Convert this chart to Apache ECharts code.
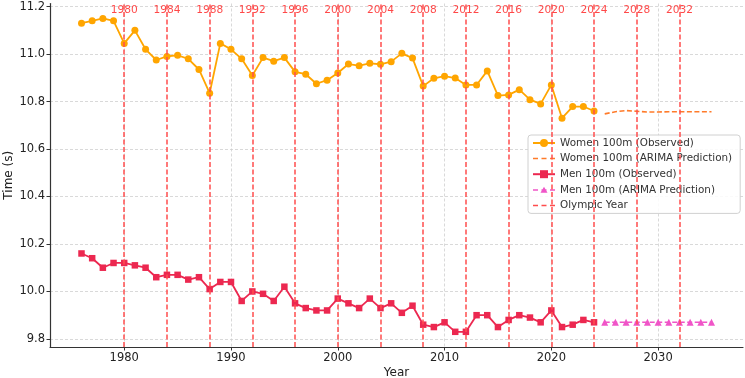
<!DOCTYPE html>
<html>
<head>
<meta charset="utf-8">
<script src="https://cdn.jsdelivr.net/npm/echarts@6/dist/echarts.min.js"></script>
<style>
  html, body {margin:0; padding:0; background:#fff;}
  #chart {width:745px; height:378px;}
</style>
</head>
<body>
<div id="chart"></div>
<script type="text/javascript">
// observed years and prediction years
var years = [];
for (var y = 1976; y <= 2024; y++) years.push(y);
var predYears = [2025, 2026, 2027, 2028, 2029, 2030, 2031, 2032, 2033, 2034, 2035];
var olympicYears = [1980, 1984, 1988, 1992, 1996, 2000, 2004, 2008, 2012, 2016, 2020, 2024, 2028, 2032];

// women 100m, 1976-2024
var womenObs = [11.13, 11.14, 11.15, 11.14, 11.045, 11.10, 11.02, 10.975, 10.99, 10.995,
  10.98, 10.935, 10.835, 11.045, 11.02, 10.98, 10.91, 10.985, 10.97, 10.985,
  10.925, 10.915, 10.875, 10.89, 10.92, 10.958, 10.951, 10.961, 10.957, 10.968,
  11.003, 10.983, 10.865, 10.898, 10.907, 10.899, 10.87, 10.87, 10.929, 10.825,
  10.828, 10.85, 10.808, 10.79, 10.87, 10.73, 10.779, 10.779, 10.76];
var womenPred = [10.748, 10.757, 10.762, 10.759, 10.756, 10.756, 10.757, 10.757, 10.757, 10.757, 10.757];

// men 100m, 1976-2024
var menObs = [10.16, 10.14, 10.10, 10.12, 10.12, 10.11, 10.10, 10.06, 10.07, 10.07,
  10.05, 10.06, 10.01, 10.04, 10.04, 9.96, 10.00, 9.99, 9.96, 10.02,
  9.95, 9.93, 9.92, 9.92, 9.97, 9.95, 9.93, 9.97, 9.93, 9.95,
  9.91, 9.94, 9.86, 9.85, 9.87, 9.83, 9.83, 9.90, 9.90, 9.85,
  9.88, 9.90, 9.89, 9.87, 9.92, 9.85, 9.86, 9.88, 9.87];
var menPred = [9.87, 9.87, 9.87, 9.87, 9.87, 9.87, 9.87, 9.87, 9.87, 9.87, 9.87];

var yTicks = [9.8, 10.0, 10.2, 10.4, 10.6, 10.8, 11.0, 11.2];
var xTicks = [1980, 1990, 2000, 2010, 2020, 2030];
var labelY = 11.183;

function pairs(xs, vs) {
  return xs.map(function (x, i) { return [x, vs[i]]; });
}

// legend icons for the dashed entries
var dashIcon = 'path://M0,0h5v1.5h-5z M8.5,0h5v1.5h-5z M17,0h5v1.5h-5z';
var dashTriIcon = dashIcon + ' M11,-2.5L14.5,3.5L7.5,3.5z';

var font = 'DejaVu Sans';
var chart = echarts.init(document.getElementById('chart'));

var option = {
  animation: false,
  textStyle: {fontFamily: font},
  grid: {left: 50, right: 2, top: 3.5, bottom: 31, containLabel: false, outerBoundsMode: 'none'},
  xAxis: {
    type: 'value', min: 1973.05, max: 2037.95,
    name: 'Year', nameLocation: 'middle', nameGap: 20, nameMoveOverlap: false,
    nameTextStyle: {fontSize: 12, color: '#222', fontFamily: font},
    axisLine: {lineStyle: {color: '#333', width: 1.2}},
    axisTick: {show: true, inside: false, length: 3.5, customValues: xTicks, lineStyle: {color: '#333'}},
    axisLabel: {customValues: xTicks, fontSize: 11.5, color: '#222', margin: 5, formatter: function (v) { return String(v); }},
    splitLine: {show: true, lineStyle: {color: '#cfcfcf', type: [3, 2], width: 0.8}}
  },
  yAxis: {
    type: 'value', min: 9.766, max: 11.213,
    name: 'Time (s)', nameLocation: 'middle', nameGap: 35, nameRotate: 90, nameMoveOverlap: false,
    nameTextStyle: {fontSize: 12, color: '#222', fontFamily: font},
    axisLine: {show: true, lineStyle: {color: '#333', width: 1.2}},
    axisTick: {show: true, length: 3.5, customValues: yTicks, lineStyle: {color: '#333'}},
    axisLabel: {customValues: yTicks, fontSize: 11.5, color: '#222', margin: 5, formatter: function (v) { return v.toFixed(1); }},
    splitLine: {show: true, lineStyle: {color: '#cfcfcf', type: [3, 2], width: 0.8}}
  },
  legend: {
    orient: 'vertical', left: 528, top: 135,
    data: [
      {name: 'Women 100m (Observed)'},
      {name: 'Women 100m (ARIMA Prediction)', icon: dashIcon, itemStyle: {color: '#ff7b2a'}},
      {name: 'Men 100m (Observed)'},
      {name: 'Men 100m (ARIMA Prediction)', icon: dashTriIcon, itemStyle: {color: '#f055c8'}},
      {name: 'Olympic Year', icon: dashIcon, itemStyle: {color: '#ff4d4d'}}
    ],
    itemWidth: 22, itemHeight: 10, itemGap: 5.6,
    padding: [3, 8, 3, 4],
    backgroundColor: 'rgba(255,255,255,0.85)',
    borderColor: '#d0d0d0', borderWidth: 1, borderRadius: 3,
    textStyle: {fontSize: 10.4, color: '#333', fontFamily: font}
  },
  series: [
    {
      name: 'Olympic Year', type: 'line', data: [], symbol: 'none',
      lineStyle: {color: '#ff4d4d', type: [5, 2.5], width: 1.5},
      itemStyle: {color: '#ff4d4d'},
      markLine: {
        silent: true, symbol: 'none', label: {show: false},
        lineStyle: {color: '#ff4d4d', type: [5, 2.5], width: 1.5},
        data: olympicYears.map(function (yr) { return {xAxis: yr}; })
      }
    },
    {
      name: 'olympic labels', type: 'scatter', symbolSize: 0, silent: true,
      data: olympicYears.map(function (yr) { return [yr, labelY]; }),
      label: {show: true, position: 'inside', color: '#ff1a1a', fontSize: 10.6, fontFamily: font,
        formatter: function (p) { return String(p.value[0]); }}
    },
    {
      name: 'Women 100m (Observed)', type: 'line', data: pairs(years, womenObs),
      symbol: 'circle', symbolSize: 7, color: '#ffa500',
      lineStyle: {width: 1.8, color: '#ffa500'}, itemStyle: {color: '#ffa500'}
    },
    {
      name: 'Women 100m (ARIMA Prediction)', type: 'line', data: pairs(predYears, womenPred),
      symbol: 'none', color: '#ff7b2a',
      lineStyle: {width: 1.6, color: '#ff7b2a', type: [5, 2.5]}
    },
    {
      name: 'Men 100m (Observed)', type: 'line', data: pairs(years, menObs),
      symbol: 'rect', symbolSize: 6.5, color: '#ec2850',
      lineStyle: {width: 1.8, color: '#ec2850'}, itemStyle: {color: '#ec2850'}
    },
    {
      name: 'Men 100m (ARIMA Prediction)', type: 'line', data: pairs(predYears, menPred),
      symbol: 'triangle', symbolSize: 7, color: '#f055c8',
      lineStyle: {width: 1.6, color: '#f055c8', type: [5, 2.5]}, itemStyle: {color: '#f055c8'}
    }
  ]
};
chart.setOption(option);
</script>
</body>
</html>
